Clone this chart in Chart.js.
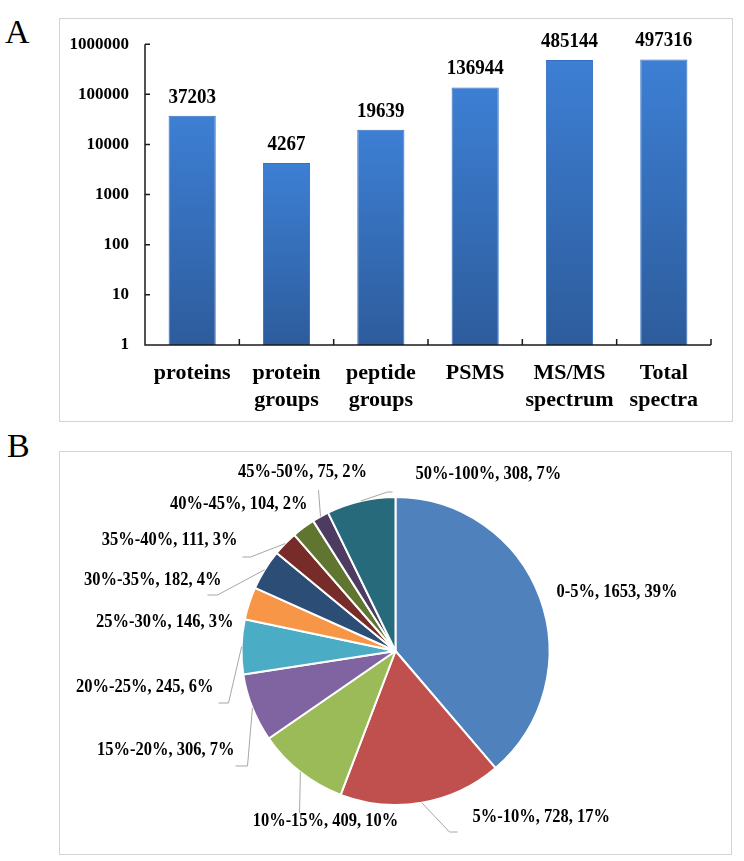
<!DOCTYPE html>
<html>
<head>
<meta charset="utf-8">
<script src="https://cdn.jsdelivr.net/npm/chart.js@4.4.0/dist/chart.umd.min.js"></script>
<style>
    body { margin: 0; background: #fff; width: 744px; height: 861px; position: relative; overflow: hidden; }
    .frame { position: absolute; border: 1px solid #d4d4d4; box-sizing: border-box; }
    .panel { position: absolute; font-family: 'Liberation Serif', serif; font-size: 34px; color: #000; line-height: 1; }
    canvas { position: absolute; }
</style>
</head>
<body>
<div class="panel" style="left:5px; top:15px;">A</div>
<div class="panel" style="left:7px; top:429px;">B</div>
<div class="frame" style="left:59px; top:18px; width:674px; height:404px;"></div>
<div class="frame" style="left:59px; top:451px; width:673px; height:404px;"></div>
<div style="position:absolute; left:59px; top:18px; width:673px; height:403px;"><canvas id="summary"></canvas></div>
<div style="position:absolute; left:59px; top:451px; width:673px; height:403px;"><canvas id="coverage"></canvas></div>
<script>
// A: identification summary
var barLabels = [['proteins'], ['protein', 'groups'], ['peptide', 'groups'], ['PSMS'], ['MS/MS', 'spectrum'], ['Total', 'spectra']];
var barValues = [37203, 4267, 19639, 136944, 485144, 497316];
var yTicks = [1, 10, 100, 1000, 10000, 100000, 1000000];

// B: sequence coverage
var pieLabels = ['0-5%', '5%-10%', '10%-15%', '15%-20%', '20%-25%', '25%-30%', '30%-35%', '35%-40%', '40%-45%', '45%-50%', '50%-100%'];
var pieValues = [1653, 728, 409, 306, 245, 146, 182, 111, 104, 75, 308];
var pieColors = ['#4F81BD', '#C0504D', '#9BBB59', '#8064A2', '#4BACC6', '#F79646', '#2C4D75', '#772C2A', '#5F7530', '#4D3B62', '#276A7C'];

// label boxes relative to pie centre: [x, y, align, leader points]
var labelLayout = [
    [161, -59, 'left', []],
    [77, 166, 'left', [[54, 181], [62, 181]]],
    [-70, 170, 'center', [[-96, 162]]],
    [-161, 99, 'right', [[-148, 115], [-160, 115]]],
    [-182, 36, 'right', [[-167, 52], [-177, 52]]],
    [-162, -29, 'right', []],
    [-174, -71, 'right', [[-178, -56], [-188, -56]]],
    [-158, -111, 'right', [[-145, -94], [-153, -94]]],
    [-88, -147, 'right', []],
    [-93, -179, 'center', [[-77, -161]]],
    [20, -177, 'left', [[-8, -159], [-3, -159]]]
];

var serif = "'Liberation Serif', 'Times New Roman', serif";

// text a bit taller than wide, like the original export
function tallText(ctx, txt, x, y, sy) {
    ctx.save();
    ctx.translate(x, y);
    ctx.scale(1, sy);
    ctx.fillText(txt, 0, 0);
    ctx.restore();
}

var axesPlugin = {
    id: 'axes',
    afterDatasetsDraw: function (chart) {
        var ctx = chart.ctx;
        var area = chart.chartArea;
        var x = chart.scales.x;
        var y = chart.scales.y;
        ctx.save();
        ctx.strokeStyle = '#1a1a1a';
        ctx.lineWidth = 1.5;
        ctx.beginPath();
        ctx.moveTo(area.left, area.top);
        ctx.lineTo(area.left, area.bottom);
        ctx.lineTo(area.right, area.bottom);
        yTicks.forEach(function (v) {
            var py = y.getPixelForValue(v);
            ctx.moveTo(area.left, py);
            ctx.lineTo(area.left + 5, py);
        });
        for (var i = 1; i <= barValues.length; i++) {
            var px = i < barValues.length ? (x.getPixelForValue(i - 1) + x.getPixelForValue(i)) / 2 : area.right;
            ctx.moveTo(px, area.bottom);
            ctx.lineTo(px, area.bottom - 6);
        }
        ctx.stroke();

        ctx.fillStyle = '#000';
        ctx.font = 'bold 19px ' + serif;
        ctx.textAlign = 'center';
        ctx.textBaseline = 'alphabetic';
        chart.getDatasetMeta(0).data.forEach(function (bar, i) {
            tallText(ctx, String(barValues[i]), bar.x, bar.y - 13, 1.05);
        });
        ctx.restore();
    }
};

var ctx = document.getElementById('summary');
var summaryChart = new Chart(ctx, {
    type: 'bar',
    data: {
        labels: barLabels,
        datasets: [{
            data: barValues,
            backgroundColor: function (c) {
                var area = c.chart.chartArea;
                if (!area || c.raw === undefined) return '#3a76c4';
                var top = c.chart.scales.y.getPixelForValue(c.raw);
                var g = c.chart.ctx.createLinearGradient(0, top, 0, area.bottom);
                g.addColorStop(0, '#3d7fd4');
                g.addColorStop(1, '#2d5c9c');
                return g;
            },
            borderColor: '#3470bf',
            borderWidth: 1,
            barPercentage: 0.5,
            categoryPercentage: 1
        }]
    },
    options: {
        responsive: true,
        maintainAspectRatio: false,
        animation: false,
        layout: { padding: { left: 0, top: 20, right: 21, bottom: 0 } },
        plugins: { legend: { display: false }, tooltip: { enabled: false } },
        scales: {
            x: {
                offset: true,
                grid: { display: false, drawTicks: false },
                border: { display: false },
                ticks: {
                    color: '#000',
                    padding: 15,
                    maxRotation: 0,
                    autoSkip: false,
                    font: { family: serif, size: 22, weight: 'bold', lineHeight: 1.22 }
                },
                afterFit: function (s) { s.height = 76; }
            },
            y: {
                type: 'logarithmic',
                min: 1,
                max: 1000000,
                grid: { display: false, drawTicks: false },
                border: { display: false },
                afterBuildTicks: function (s) {
                    s.ticks = yTicks.map(function (v) { return { value: v }; });
                },
                ticks: {
                    color: '#000',
                    padding: 16,
                    font: { family: serif, size: 17, weight: 'bold' },
                    callback: function (v) { return String(v); }
                },
                afterFit: function (s) { s.width = 86; }
            }
        }
    },
    plugins: [axesPlugin]
});

var pieLabelPlugin = {
    id: 'pieLabels',
    afterDatasetsDraw: function (chart) {
        var ctx = chart.ctx;
        var total = pieValues.reduce(function (a, b) { return a + b; }, 0);
        ctx.save();
        ctx.font = 'bold 16.5px ' + serif;
        ctx.textBaseline = 'middle';
        ctx.fillStyle = '#000';
        ctx.strokeStyle = '#a6a6a6';
        ctx.lineWidth = 1;
        chart.getDatasetMeta(0).data.forEach(function (arc, i) {
            var p = arc.getProps(['x', 'y', 'startAngle', 'endAngle', 'outerRadius'], true);
            var mid = (p.startAngle + p.endAngle) / 2;
            var lay = labelLayout[i];
            if (lay[3].length) {
                ctx.beginPath();
                ctx.moveTo(p.x + Math.cos(mid) * p.outerRadius, p.y + Math.sin(mid) * p.outerRadius);
                lay[3].forEach(function (pt) { ctx.lineTo(p.x + pt[0], p.y + pt[1]); });
                ctx.stroke();
            }
            var pct = Math.round(pieValues[i] / total * 100);
            ctx.textAlign = lay[2];
            tallText(ctx, pieLabels[i] + ', ' + pieValues[i] + ', ' + pct + '%', p.x + lay[0], p.y + lay[1], 1.15);
        });
        ctx.restore();
    }
};

var ctx = document.getElementById('coverage');
var coverageChart = new Chart(ctx, {
    type: 'pie',
    data: {
        labels: pieLabels,
        datasets: [{
            data: pieValues,
            backgroundColor: pieColors,
            borderColor: '#fff',
            borderWidth: 2
        }]
    },
    options: {
        responsive: true,
        maintainAspectRatio: false,
        animation: false,
        radius: 154,
        layout: { padding: { top: 0, bottom: 3 } },
        plugins: { legend: { display: false }, tooltip: { enabled: false } }
    },
    plugins: [pieLabelPlugin]
});
</script>
</body>
</html>
